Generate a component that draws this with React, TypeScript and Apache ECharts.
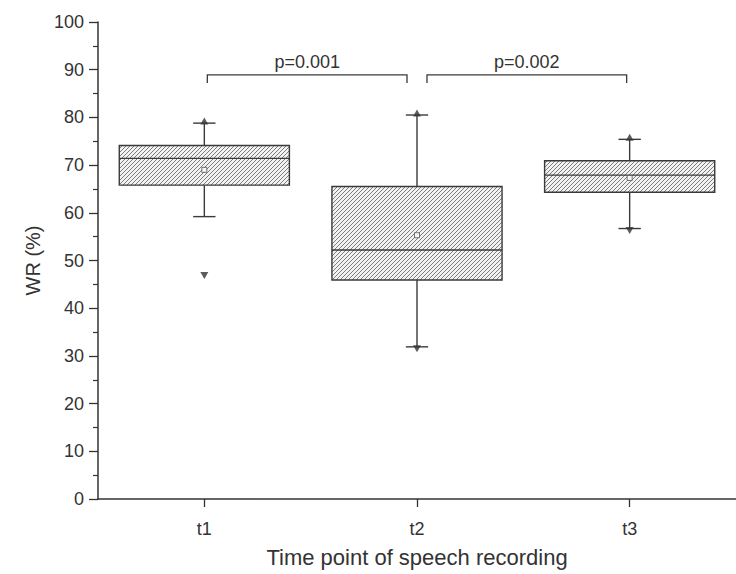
import React, { useEffect, useRef } from 'react';
import * as echarts from 'echarts';

const categories = ['t1', 't2', 't3'];
const whiskerLow = [59.2, 31.9, 56.7];
const q1 = [65.8, 45.9, 64.3];
const median = [71.4, 52.2, 67.9];
const q3 = [74.1, 65.5, 70.9];
const whiskerHigh = [78.8, 80.5, 75.4];
const means = [69.0, 55.3, 67.3];
const maxima = [78.8, 80.5, 75.4];
const minima = [47.3, 31.9, 56.7];
const comparisonFrom = [0, 1];
const comparisonTo = [1, 2];
const comparisonLevel = [88.9, 88.9];
const comparisonLabels = ['p=0.001', 'p=0.002'];

const FONT = '"Liberation Sans", Arial, Helvetica, sans-serif';
const INK = '#333333';

const hatchSvg =
  '<svg xmlns="http://www.w3.org/2000/svg" width="4" height="4">' +
  '<rect width="4" height="4" fill="#f2f2f2"/>' +
  '<path d="M-1,1 L1,-1 M0,4 L4,0 M3,5 L5,3" stroke="#6e6e6e" stroke-width="0.9"/>' +
  '</svg>';
const hatchUrl = 'data:image/svg+xml;charset=utf-8,' + encodeURIComponent(hatchSvg);

export default function App() {
  const ref = useRef<HTMLDivElement>(null);

  useEffect(() => {
    if (!ref.current) return;
    const chart = echarts.init(ref.current, undefined, { renderer: 'svg' });
    const pattern: any = { image: hatchUrl, repeat: 'repeat', imageWidth: 4, imageHeight: 4 };

    const boxData = categories.map((_, i) => [i, whiskerLow[i], q1[i], median[i], q3[i], whiskerHigh[i]]);
    const compData = comparisonFrom.map((f, i) => [f, comparisonTo[i], comparisonLevel[i]]);

    chart.setOption({
      animation: false,
      backgroundColor: '#ffffff',
      grid: { left: 98, right: -13, top: 22, bottom: 75, containLabel: false },
      xAxis: {
        type: 'category',
        data: categories,
        boundaryGap: true,
        axisLine: { show: true, lineStyle: { color: INK, width: 1.5 } },
        axisTick: { show: true, alignWithLabel: true, length: 8, lineStyle: { color: INK, width: 1.3 } },
        axisLabel: { fontSize: 18, color: INK, fontFamily: FONT, margin: 21 },
        splitLine: { show: false },
        name: 'Time point of speech recording',
        nameLocation: 'middle',
        nameGap: 47,
        nameTextStyle: { fontSize: 22, color: INK, fontFamily: FONT },
      },
      yAxis: {
        type: 'value',
        min: 0,
        max: 100,
        interval: 10,
        axisLine: { show: true, lineStyle: { color: INK, width: 1.5 } },
        axisTick: { show: true, length: 9, lineStyle: { color: INK, width: 1.3 } },
        minorTick: { show: true, splitNumber: 2, length: 5, lineStyle: { color: INK, width: 1.2 } },
        axisLabel: { fontSize: 18, color: INK, fontFamily: FONT, margin: 14 },
        splitLine: { show: false },
        minorSplitLine: { show: false },
        name: 'WR (%)',
        nameLocation: 'middle',
        nameGap: 46,
        nameTextStyle: { fontSize: 20, color: INK, fontFamily: FONT },
      },
      series: [
        {
          type: 'custom',
          name: 'box',
          data: boxData,
          encode: { x: 0, y: [1, 2, 3, 4, 5] },
          z: 2,
          renderItem: (params: any, api: any) => {
            const idx = api.value(0);
            const lo = api.coord([idx, api.value(1)]);
            const b1 = api.coord([idx, api.value(2)]);
            const md = api.coord([idx, api.value(3)]);
            const b3 = api.coord([idx, api.value(4)]);
            const hi = api.coord([idx, api.value(5)]);
            const band = api.size([1, 0])[0];
            const bw = band * 0.8;
            const cw = band * 0.105;
            const x = lo[0];
            const st = { stroke: '#3a3a3a', lineWidth: 1.4, fill: null };
            return {
              type: 'group',
              children: [
                { type: 'line', shape: { x1: x, y1: hi[1], x2: x, y2: b3[1] }, style: st },
                { type: 'line', shape: { x1: x, y1: b1[1], x2: x, y2: lo[1] }, style: st },
                { type: 'line', shape: { x1: x - cw / 2, y1: hi[1], x2: x + cw / 2, y2: hi[1] }, style: st },
                { type: 'line', shape: { x1: x - cw / 2, y1: lo[1], x2: x + cw / 2, y2: lo[1] }, style: st },
                {
                  type: 'rect',
                  shape: { x: x - bw / 2, y: b3[1], width: bw, height: b1[1] - b3[1] },
                  style: { fill: pattern, stroke: '#3a3a3a', lineWidth: 1.4 },
                },
                { type: 'line', shape: { x1: x - bw / 2, y1: md[1], x2: x + bw / 2, y2: md[1] }, style: st },
              ],
            };
          },
        },
        {
          type: 'custom',
          name: 'brackets',
          data: compData,
          encode: { x: [0, 1], y: 2 },
          z: 2,
          renderItem: (params: any, api: any) => {
            const f = api.value(0);
            const t = api.value(1);
            const a = api.coord([f, api.value(2)]);
            const b = api.coord([t, api.value(2)]);
            const x1 = a[0] + (f === 1 ? 10 : 3);
            const x2 = b[0] - (t === 1 ? 10 : 3);
            const y = a[1];
            const st = { stroke: '#3a3a3a', lineWidth: 1.3, fill: null };
            return {
              type: 'group',
              children: [
                { type: 'polyline', shape: { points: [[x1, y + 8], [x1, y], [x2, y], [x2, y + 8]] }, style: st },
                {
                  type: 'text',
                  x: (x1 + x2) / 2,
                  y: y - 13,
                  style: {
                    text: comparisonLabels[params.dataIndex],
                    textAlign: 'center',
                    textVerticalAlign: 'middle',
                    font: '18px ' + FONT,
                    fill: INK,
                  },
                },
              ],
            };
          },
        },
        {
          type: 'scatter',
          name: 'mean',
          data: means.map((m, i) => [i, m]),
          symbol: 'rect',
          symbolSize: 5,
          z: 5,
          itemStyle: { color: '#ffffff', borderColor: '#555555', borderWidth: 1 },
        },
        {
          type: 'scatter',
          name: 'max',
          data: maxima.map((m, i) => [i, m]),
          symbol: 'triangle',
          symbolSize: [8, 7],
          symbolOffset: [0, -2],
          z: 5,
          itemStyle: { color: '#333333' },
        },
        {
          type: 'scatter',
          name: 'min',
          data: minima.map((m, i) => [i, m]),
          symbol: 'triangle',
          symbolRotate: 180,
          symbolSize: [8, 7],
          symbolOffset: [0, 2],
          z: 5,
          itemStyle: { color: '#333333' },
        },
      ],
    });

    return () => {
      chart.dispose();
    };
  }, []);

  return (
    <div
      ref={ref}
      style={{ position: 'fixed', left: 0, top: 0, width: 736, height: 574, background: '#ffffff' }}
    />
  );
}
